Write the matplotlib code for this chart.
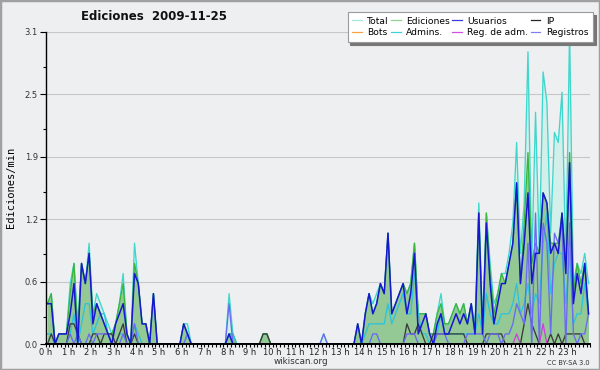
import numpy as np
import matplotlib
matplotlib.use("Agg")
import matplotlib.pyplot as plt
from matplotlib.patches import Rectangle
from matplotlib.lines import Line2D
from matplotlib.ticker import FixedLocator

# ---- data: edits per minute, 10-minute buckets, 24 rows of 6 (one row per hour)
total = [
    0.4, 0.5, 0.0, 0.1, 0.1, 0.1,
    0.6, 0.8, 0.2, 0.8, 0.6, 1.0,
    0.3, 0.5, 0.4, 0.3, 0.2, 0.1,
    0.2, 0.4, 0.7, 0.1, 0.0, 1.0,
    0.6, 0.2, 0.2, 0.0, 0.5, 0.0,
    0.0, 0.0, 0.0, 0.0, 0.0, 0.0,
    0.2, 0.2, 0.0, 0.0, 0.0, 0.0,
    0.0, 0.0, 0.0, 0.0, 0.0, 0.0,
    0.5, 0.1, 0.0, 0.0, 0.0, 0.0,
    0.0, 0.0, 0.0, 0.1, 0.1, 0.0,
    0.0, 0.0, 0.0, 0.0, 0.0, 0.0,
    0.0, 0.0, 0.0, 0.0, 0.0, 0.0,
    0.0, 0.1, 0.0, 0.0, 0.0, 0.0,
    0.0, 0.0, 0.0, 0.0, 0.2, 0.0,
    0.3, 0.5, 0.4, 0.5, 0.6, 0.5,
    1.1, 0.3, 0.4, 0.5, 0.6, 0.5,
    0.6, 1.0, 0.3, 0.3, 0.3, 0.1,
    0.1, 0.3, 0.5, 0.2, 0.2, 0.3,
    0.4, 0.3, 0.4, 0.2, 0.4, 0.2,
    1.4, 0.2, 1.3, 0.8, 0.4, 0.5,
    0.7, 0.7, 0.9, 1.2, 2.0, 0.9,
    1.4, 2.9, 0.8, 2.3, 0.9, 2.7,
    2.4, 1.1, 2.1, 2.0, 2.5, 0.8,
    3.1, 0.6, 0.8, 0.7, 0.9, 0.6,
]
ediciones = [
    0.4, 0.5, 0.0, 0.1, 0.1, 0.1,
    0.5, 0.8, 0.1, 0.8, 0.6, 0.9,
    0.3, 0.4, 0.3, 0.2, 0.1, 0.1,
    0.2, 0.4, 0.6, 0.1, 0.0, 0.8,
    0.6, 0.2, 0.2, 0.0, 0.5, 0.0,
    0.0, 0.0, 0.0, 0.0, 0.0, 0.0,
    0.2, 0.1, 0.0, 0.0, 0.0, 0.0,
    0.0, 0.0, 0.0, 0.0, 0.0, 0.0,
    0.1, 0.1, 0.0, 0.0, 0.0, 0.0,
    0.0, 0.0, 0.0, 0.1, 0.1, 0.0,
    0.0, 0.0, 0.0, 0.0, 0.0, 0.0,
    0.0, 0.0, 0.0, 0.0, 0.0, 0.0,
    0.0, 0.0, 0.0, 0.0, 0.0, 0.0,
    0.0, 0.0, 0.0, 0.0, 0.2, 0.0,
    0.3, 0.5, 0.3, 0.4, 0.6, 0.5,
    1.1, 0.3, 0.4, 0.5, 0.6, 0.5,
    0.6, 1.0, 0.3, 0.3, 0.3, 0.1,
    0.1, 0.3, 0.4, 0.2, 0.2, 0.3,
    0.4, 0.3, 0.4, 0.2, 0.4, 0.1,
    1.3, 0.1, 1.3, 0.7, 0.3, 0.5,
    0.7, 0.6, 0.8, 1.0, 1.6, 0.6,
    1.2, 1.9, 0.8, 1.0, 0.9, 1.5,
    1.4, 1.0, 1.0, 1.0, 1.3, 0.8,
    1.9, 0.5, 0.8, 0.6, 0.8, 0.3,
]
usuarios = [
    0.4, 0.4, 0.0, 0.1, 0.1, 0.1,
    0.3, 0.6, 0.0, 0.8, 0.6, 0.9,
    0.2, 0.4, 0.3, 0.2, 0.1, 0.0,
    0.2, 0.3, 0.4, 0.1, 0.0, 0.7,
    0.6, 0.2, 0.2, 0.0, 0.5, 0.0,
    0.0, 0.0, 0.0, 0.0, 0.0, 0.0,
    0.2, 0.1, 0.0, 0.0, 0.0, 0.0,
    0.0, 0.0, 0.0, 0.0, 0.0, 0.0,
    0.1, 0.0, 0.0, 0.0, 0.0, 0.0,
    0.0, 0.0, 0.0, 0.0, 0.0, 0.0,
    0.0, 0.0, 0.0, 0.0, 0.0, 0.0,
    0.0, 0.0, 0.0, 0.0, 0.0, 0.0,
    0.0, 0.0, 0.0, 0.0, 0.0, 0.0,
    0.0, 0.0, 0.0, 0.0, 0.2, 0.0,
    0.3, 0.5, 0.3, 0.4, 0.6, 0.5,
    1.1, 0.3, 0.4, 0.5, 0.6, 0.3,
    0.5, 0.9, 0.1, 0.2, 0.3, 0.1,
    0.0, 0.2, 0.3, 0.1, 0.1, 0.2,
    0.3, 0.2, 0.3, 0.2, 0.4, 0.1,
    1.3, 0.1, 1.2, 0.6, 0.2, 0.4,
    0.6, 0.6, 0.8, 1.0, 1.6, 0.6,
    1.0, 1.5, 0.6, 0.9, 0.9, 1.5,
    1.4, 0.9, 1.0, 0.9, 1.3, 0.7,
    1.8, 0.4, 0.7, 0.5, 0.8, 0.3,
]
ip = [
    0.0, 0.1, 0.0, 0.0, 0.0, 0.0,
    0.2, 0.2, 0.1, 0.0, 0.0, 0.0,
    0.1, 0.1, 0.0, 0.1, 0.1, 0.1,
    0.0, 0.1, 0.2, 0.0, 0.0, 0.1,
    0.0, 0.0, 0.0, 0.0, 0.0, 0.0,
    0.0, 0.0, 0.0, 0.0, 0.0, 0.0,
    0.0, 0.0, 0.0, 0.0, 0.0, 0.0,
    0.0, 0.0, 0.0, 0.0, 0.0, 0.0,
    0.0, 0.0, 0.0, 0.0, 0.0, 0.0,
    0.0, 0.0, 0.0, 0.1, 0.1, 0.0,
    0.0, 0.0, 0.0, 0.0, 0.0, 0.0,
    0.0, 0.0, 0.0, 0.0, 0.0, 0.0,
    0.0, 0.0, 0.0, 0.0, 0.0, 0.0,
    0.0, 0.0, 0.0, 0.0, 0.0, 0.0,
    0.0, 0.0, 0.0, 0.0, 0.0, 0.0,
    0.0, 0.0, 0.0, 0.0, 0.0, 0.2,
    0.1, 0.1, 0.2, 0.1, 0.0, 0.0,
    0.1, 0.1, 0.1, 0.1, 0.1, 0.1,
    0.1, 0.1, 0.1, 0.0, 0.0, 0.0,
    0.0, 0.0, 0.1, 0.1, 0.1, 0.1,
    0.1, 0.0, 0.0, 0.0, 0.0, 0.0,
    0.2, 0.4, 0.2, 0.1, 0.0, 0.0,
    0.0, 0.1, 0.0, 0.1, 0.0, 0.1,
    0.1, 0.1, 0.1, 0.1, 0.0, 0.0,
]
admins = [
    0.1, 0.1, 0.0, 0.0, 0.0, 0.0,
    0.1, 0.3, 0.0, 0.2, 0.4, 0.4,
    0.1, 0.2, 0.3, 0.3, 0.1, 0.0,
    0.0, 0.1, 0.1, 0.0, 0.0, 0.2,
    0.1, 0.0, 0.0, 0.0, 0.0, 0.0,
    0.0, 0.0, 0.0, 0.0, 0.0, 0.0,
    0.0, 0.1, 0.0, 0.0, 0.0, 0.0,
    0.0, 0.0, 0.0, 0.0, 0.0, 0.0,
    0.1, 0.1, 0.0, 0.0, 0.0, 0.0,
    0.0, 0.0, 0.0, 0.0, 0.0, 0.0,
    0.0, 0.0, 0.0, 0.0, 0.0, 0.0,
    0.0, 0.0, 0.0, 0.0, 0.0, 0.0,
    0.0, 0.0, 0.0, 0.0, 0.0, 0.0,
    0.0, 0.0, 0.0, 0.0, 0.0, 0.0,
    0.1, 0.2, 0.2, 0.2, 0.2, 0.2,
    0.4, 0.2, 0.3, 0.4, 0.5, 0.3,
    0.3, 0.7, 0.3, 0.1, 0.1, 0.0,
    0.0, 0.1, 0.3, 0.1, 0.1, 0.1,
    0.1, 0.1, 0.1, 0.1, 0.1, 0.1,
    0.3, 0.1, 0.5, 0.3, 0.2, 0.2,
    0.3, 0.3, 0.3, 0.4, 0.6, 0.3,
    0.4, 0.6, 0.3, 0.5, 0.4, 1.0,
    1.3, 0.5, 0.8, 0.9, 0.9, 0.4,
    0.9, 0.2, 0.3, 0.3, 0.6, 0.3,
]
registros = [
    0.0, 0.0, 0.0, 0.0, 0.0, 0.0,
    0.1, 0.0, 0.1, 0.0, 0.0, 0.1,
    0.0, 0.1, 0.1, 0.1, 0.1, 0.0,
    0.0, 0.0, 0.1, 0.0, 0.0, 0.2,
    0.0, 0.0, 0.0, 0.0, 0.0, 0.0,
    0.0, 0.0, 0.0, 0.0, 0.0, 0.0,
    0.0, 0.1, 0.0, 0.0, 0.0, 0.0,
    0.0, 0.0, 0.0, 0.0, 0.0, 0.0,
    0.4, 0.0, 0.0, 0.0, 0.0, 0.0,
    0.0, 0.0, 0.0, 0.0, 0.0, 0.0,
    0.0, 0.0, 0.0, 0.0, 0.0, 0.0,
    0.0, 0.0, 0.0, 0.0, 0.0, 0.0,
    0.0, 0.1, 0.0, 0.0, 0.0, 0.0,
    0.0, 0.0, 0.0, 0.0, 0.0, 0.0,
    0.0, 0.0, 0.1, 0.1, 0.0, 0.0,
    0.0, 0.0, 0.0, 0.0, 0.0, 0.1,
    0.1, 0.1, 0.0, 0.0, 0.0, 0.0,
    0.0, 0.1, 0.1, 0.1, 0.0, 0.0,
    0.0, 0.0, 0.0, 0.1, 0.1, 0.1,
    0.1, 0.1, 0.0, 0.1, 0.1, 0.1,
    0.0, 0.1, 0.1, 0.2, 0.4, 0.3,
    0.2, 1.0, 0.0, 1.3, 0.0, 1.2,
    1.0, 0.1, 1.1, 1.0, 1.2, 0.0,
    1.2, 0.1, 0.0, 0.1, 0.1, 0.3,
]
reg_adm = [0.0] * 124 + [0.1] + [0.0] * 6 + [0.2] + [0.0] * 12
bots = [0.0] * 144

hour_labels = [f"{h} h" for h in range(24)]
ytick_vals = [0, 0.62, 1.24, 1.86, 2.48, 3.1]
ytick_labels = ["0.0", "0.6", "1.2", "1.9", "2.5", "3.1"]

# ---- styling
C_TOTAL_LINE = "#3fd6cc"
C_TOTAL_FILL = "#d2efe9"
C_ED_LINE = "#3cb43c"
C_ED_FILL = "#94c894"
C_US = "#1717d0"
C_IP = "#3a3a3a"
C_BOTS = "#f0a030"
C_ADM = "#2cc4dc"
C_RA = "#d040e0"
C_REG = "#6a6af2"
BG = "#eeeff1"

fig = plt.figure(figsize=(6, 3.7), dpi=100)
fig.patch.set_facecolor(BG)
ax = fig.add_axes([45.6 / 600, 1 - 344 / 370, (590.4 - 45.6) / 600, (344 - 31.7) / 370])
ax.set_facecolor(BG)

x = (np.arange(len(total)) + 0.5) / 6.0

ax.fill_between(x, 0, total, color=C_TOTAL_FILL, lw=0, zorder=1)
ax.fill_between(x, 0, ediciones, color=C_ED_FILL, lw=0, zorder=2)
lw = 0.95
ax.plot(x, total, color=C_TOTAL_LINE, lw=lw, zorder=3)
ax.plot(x, ediciones, color=C_ED_LINE, lw=lw, zorder=3)
ax.plot(x, admins, color=C_ADM, lw=lw, zorder=4)
ax.plot(x, ip, color=C_IP, lw=lw, zorder=4)
ax.plot(x, bots, color=C_BOTS, lw=lw, zorder=4)
ax.plot(x, registros, color=C_REG, lw=lw, zorder=4)
ax.plot(x, reg_adm, color=C_RA, lw=lw, zorder=4)
ax.plot(x, usuarios, color=C_US, lw=1.1, zorder=5)

ax.set_xlim(0, 24)
ax.set_ylim(0, 3.1)

for s in ["top", "right"]:
    ax.spines[s].set_visible(False)
ax.spines["left"].set_linewidth(1.0)
ax.spines["bottom"].set_linewidth(1.4)
ax.spines["left"].set_zorder(6)
ax.spines["bottom"].set_zorder(6)

ax.yaxis.set_major_locator(FixedLocator(ytick_vals))
ax.set_yticklabels(ytick_labels)
ax.yaxis.set_minor_locator(FixedLocator([0.27, 0.89, 1.51, 2.13, 2.75]))
ax.tick_params(axis="y", which="major", length=4.5, width=0.8, labelsize=6, labelcolor="#333333", pad=1)
ax.tick_params(axis="y", which="minor", length=2.5, width=0.8)

ax.xaxis.set_major_locator(FixedLocator(list(range(24))))
ax.set_xticklabels(hour_labels)
ax.xaxis.set_minor_locator(FixedLocator([k / 6 for k in range(145)]))
ax.tick_params(axis="x", which="both", length=2.5, width=0.8, direction="out")
ax.tick_params(axis="x", which="major", labelsize=6, labelcolor="#222222", pad=0.5)

ax.grid(True, axis="y", which="major", color="#c8c8c8", lw=0.8, zorder=0)
ax.set_axisbelow(True)

ax.set_ylabel("Ediciones/min", family="DejaVu Sans Mono", fontsize=7.5)
ax.yaxis.set_label_coords((16 - 45.6) / 544.8, 0.5)

fig.text(154 / 600, 1 - 16.5 / 370, "Ediciones  2009-11-25", ha="center", va="center",
         fontsize=8.5, fontweight="bold", color="#111111")
fig.text(301 / 600, 1 - 362 / 370, "wikiscan.org", ha="center", va="center", fontsize=6.3, color="#333333")
fig.text(590 / 600, 1 - 363 / 370, "CC BY-SA 3.0", ha="right", va="center", fontsize=4.8, color="#333333")

# legend (handle colours as shown in the reference key)
entries = [("Total", "#a6e6de"), ("Bots", "#f6a240"), ("Ediciones", "#8fd48f"), ("Admins.", "#40d0e0"),
           ("Usuarios", "#3c3cdc"), ("Reg. de adm.", "#d050e0"), ("IP", "#262626"), ("Registros", "#8080f0")]
handles = [Line2D([], [], color=c, lw=0.9) for _, c in entries]
labels = [n for n, _ in entries]
leg = fig.legend(handles, labels, ncol=4, loc="upper right",
                 bbox_to_anchor=(593 / 600, 1 - 12 / 370), bbox_transform=fig.transFigure,
                 fontsize=6.6, frameon=True, fancybox=False, facecolor="white", edgecolor="#9a9a9a",
                 framealpha=1, shadow={"color": "#777777", "alpha": 1},
                 handlelength=1.05, handletextpad=0.6, columnspacing=0.25, labelspacing=0.3,
                 borderpad=0.5, borderaxespad=0)
leg.get_frame().set_linewidth(0.8)
leg.set_zorder(10)

fig.add_artist(Rectangle((0, 0), 1, 1, transform=fig.transFigure, fill=False,
                         ec="#a0a0a0", lw=2.5))

fig.savefig("out.png", dpi=100, facecolor=BG)
